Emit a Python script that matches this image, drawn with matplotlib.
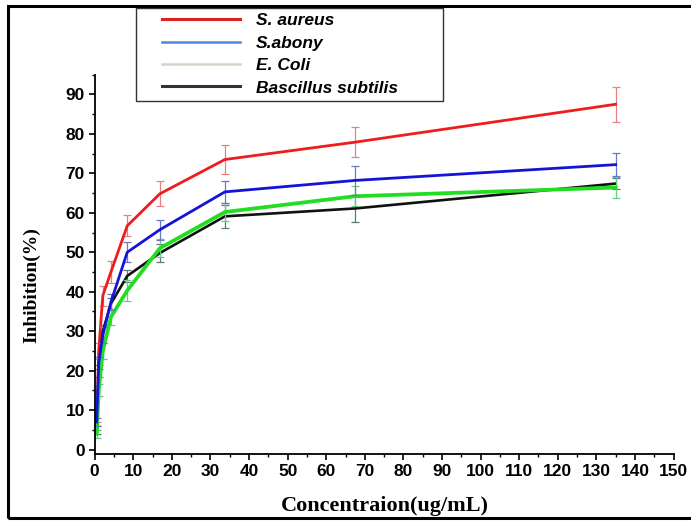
import matplotlib
matplotlib.use("Agg")
import matplotlib.pyplot as plt
from matplotlib.lines import Line2D
from matplotlib.legend_handler import HandlerLine2D
from matplotlib.patches import Rectangle
from matplotlib.ticker import MultipleLocator

# concentrations (ug/mL)
conc = [0.53, 1.05, 2.11, 4.22, 8.44, 16.88, 33.75, 67.5, 135]

# inhibition (%) and error for each strain
aureus = [6, 25, 39, 45, 56.7, 64.8, 73.5, 77.9, 87.5]
aureus_err = [1, 2, 2.5, 2.7, 2.7, 3.2, 3.7, 3.8, 4.4]
abony = [7, 22, 29, 37.4, 50, 55.7, 65.3, 68.2, 72.2]
abony_err = [1, 1.5, 2, 2, 2.5, 2.5, 2.8, 3.6, 2.9]
coli = [4, 15, 25, 33.6, 40.3, 51.0, 60.2, 64.2, 66.4]
coli_err = [1, 1.5, 2, 2, 2.7, 2.3, 2.2, 2.5, 2.7]
subtilis = [5, 20, 30, 37, 44, 49.8, 59.1, 61.1, 67.4]
subtilis_err = [1, 1.5, 1.5, 1.5, 1.5, 2.3, 3, 3.5, 1.3]

labels = ["S. aureus", "S.abony", "E. Coli", "Bascillus subtilis"]

fig = plt.figure(figsize=(6.91, 5.23), dpi=100)
ax = fig.add_axes([0.137, 0.1314, 0.8377, 0.7258])

# lines, error bars drawn lighter like the original
series = [
    (aureus, aureus_err, "#ee1c1c", "#e88080", 2.0),
    (subtilis, subtilis_err, "#111111", "#5a7a78", 1.9),
    (coli, coli_err, "#22dd22", "#66cc88", 2.7),
    (abony, abony_err, "#1414d8", "#6a78c8", 2.0),
]
for vals, err, col, ecol, lw in series:
    ax.errorbar(conc, vals, yerr=err, fmt="none", ecolor=ecol,
                elinewidth=0.9, capsize=3, capthick=0.9)
    ax.plot(conc, vals, color=col, lw=lw)

ax.set_xlim(0, 150)
ax.set_ylim(-1.2, 95)
ax.xaxis.set_major_locator(MultipleLocator(10))
ax.xaxis.set_minor_locator(MultipleLocator(5))
ax.yaxis.set_major_locator(MultipleLocator(10))
ax.yaxis.set_minor_locator(MultipleLocator(5))
ax.set_yticks(range(0, 91, 10))

for s in ["top", "right"]:
    ax.spines[s].set_visible(False)
for s in ["left", "bottom"]:
    ax.spines[s].set_linewidth(1.3)

ax.tick_params(which="major", direction="out", length=4, width=1.2,
               labelsize=12.5, pad=3)
ax.tick_params(which="minor", direction="out", length=2.5, width=1.0)
for t in ax.get_xticklabels() + ax.get_yticklabels():
    t.set_fontweight("bold")
    t.set_family("Liberation Sans")

ax.set_xlabel("Concentraion(ug/mL)", family="Liberation Serif",
              fontweight="bold", fontsize=16)
ax.set_ylabel("Inhibition(%)", family="Liberation Serif",
              fontweight="bold", fontsize=14)
ax.xaxis.set_label_coords(0.501, -0.11)
ax.yaxis.set_label_coords(-0.094, 0.446)

# legend with its own light handle colours
handles = [
    Line2D([], [], color="#dd2020", lw=2.2),
    Line2D([], [], color="#4a8ad8", lw=1.8),
    Line2D([], [], color="#cfd6c8", lw=1.8),
    Line2D([], [], color="#333333", lw=2.2),
]
leg = fig.legend(handles, labels, loc="upper left",
                 bbox_to_anchor=(0.197, 0.809, 0.444, 0.176), mode="expand",
                 borderaxespad=0, borderpad=0.3, labelspacing=0.42,
                 handlelength=5.7, handletextpad=0.9, fancybox=False,
                 handler_map={Line2D: HandlerLine2D(xpad=1.2)},
                 prop={"family": "Liberation Sans", "weight": "bold",
                       "style": "italic", "size": 12.5})
leg.get_frame().set_edgecolor("black")
leg.get_frame().set_linewidth(1.0)

# border around the whole figure
fig.patches.append(Rectangle((0.0116, 0.0096), 1.2, 0.979,
                             transform=fig.transFigure, fill=False,
                             edgecolor="black", lw=2.2))

fig.savefig("out.png", dpi=100)
